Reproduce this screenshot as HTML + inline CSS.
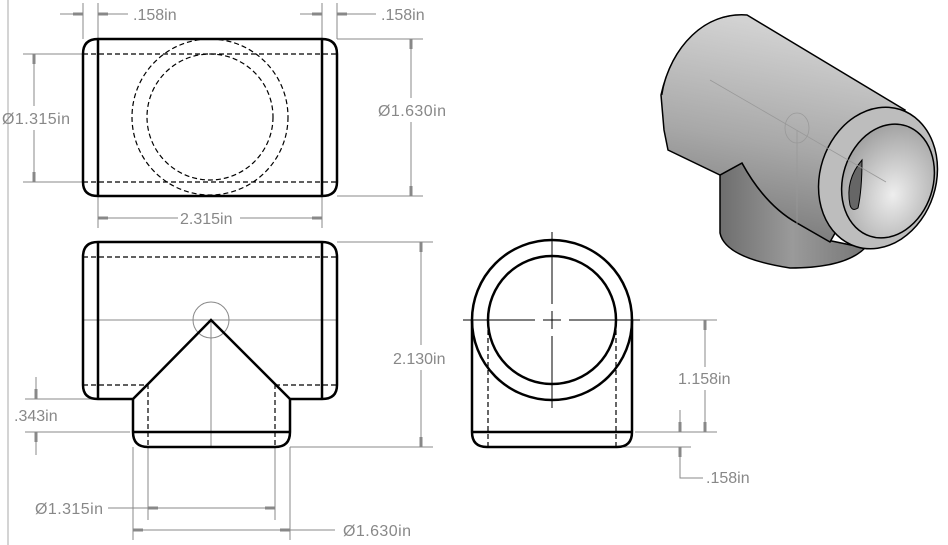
<!DOCTYPE html>
<html><head><meta charset="utf-8"><style>
html,body{margin:0;padding:0;background:#fff;}
svg{display:block;}
text{font-family:"Liberation Sans",sans-serif;font-size:16px;fill:#888;}
</style></head><body>
<svg width="948" height="545" viewBox="0 0 948 545" xmlns="http://www.w3.org/2000/svg">
<defs>
<linearGradient id="g1" x1="0.2" y1="0" x2="0" y2="1"><stop offset="0" stop-color="#d2d2d2"/><stop offset="0.5" stop-color="#a8a8a8"/><stop offset="1" stop-color="#707070"/></linearGradient>
<linearGradient id="g2" x1="0" y1="0" x2="1" y2="0"><stop offset="0" stop-color="#6e6e6e"/><stop offset="0.5" stop-color="#9a9a9a"/><stop offset="1" stop-color="#777"/></linearGradient>
<radialGradient id="g3" cx="0.6" cy="0.6" r="0.7"><stop offset="0" stop-color="#eeeeee"/><stop offset="1" stop-color="#9a9a9a"/></radialGradient>
</defs>
<line x1="8" y1="0" x2="8" y2="545" stroke="#aaa" stroke-width="1"/>

<g stroke="#888" stroke-width="1" fill="none">
<line x1="83" y1="3" x2="83" y2="39"/><line x1="98" y1="3" x2="98" y2="228"/>
<line x1="322" y1="3" x2="322" y2="228"/><line x1="337" y1="3" x2="337" y2="39"/>
<line x1="60" y1="14" x2="83" y2="14"/><line x1="98" y1="14" x2="128" y2="14"/>
<line x1="300" y1="14" x2="322" y2="14"/><line x1="337" y1="14" x2="376" y2="14"/>
<line x1="23" y1="54" x2="83" y2="54"/><line x1="23" y1="182" x2="83" y2="182"/>
<line x1="34" y1="54" x2="34" y2="106"/><line x1="34" y1="130" x2="34" y2="182"/>
<line x1="337" y1="39" x2="423" y2="39"/><line x1="337" y1="196" x2="423" y2="196"/>
<line x1="411" y1="39" x2="411" y2="98"/><line x1="411" y1="122" x2="411" y2="196"/>
<line x1="98" y1="218" x2="178" y2="218"/><line x1="240" y1="218" x2="322" y2="218"/>
<line x1="337" y1="242" x2="433" y2="242"/><line x1="290" y1="447" x2="433" y2="447"/>
<line x1="421" y1="242" x2="421" y2="345"/><line x1="421" y1="370" x2="421" y2="447"/>
<line x1="25" y1="399" x2="97" y2="399"/><line x1="25" y1="432" x2="130" y2="432"/>
<line x1="36" y1="377" x2="36" y2="399"/><line x1="36" y1="432" x2="36" y2="455"/>
<line x1="148" y1="447" x2="148" y2="520"/><line x1="275" y1="447" x2="275" y2="520"/>
<line x1="133" y1="447" x2="133" y2="540"/><line x1="290" y1="447" x2="290" y2="540"/>
<line x1="108" y1="508" x2="275" y2="508"/>
<line x1="133" y1="530" x2="335" y2="530"/>
<line x1="635" y1="320" x2="717" y2="320"/><line x1="635" y1="432" x2="717" y2="432"/>
<line x1="620" y1="447" x2="691" y2="447"/>
<line x1="705" y1="320" x2="705" y2="367"/><line x1="705" y1="390" x2="705" y2="432"/>
<line x1="680" y1="410" x2="680" y2="432"/>
<polyline points="680,447 680,478 703,478"/>
<line x1="83" y1="320" x2="337" y2="320"/>
<line x1="211" y1="320" x2="211" y2="447"/>
<circle cx="211" cy="320" r="18"/>
</g>
<g fill="#888">
<rect x="73" y="12.5" width="10" height="3"/><rect x="98" y="12.5" width="10" height="3"/>
<rect x="312" y="12.5" width="10" height="3"/><rect x="337" y="12.5" width="10" height="3"/>
<rect x="32.5" y="54" width="3" height="10"/><rect x="32.5" y="172" width="3" height="10"/>
<rect x="409.5" y="39" width="3" height="10"/><rect x="409.5" y="186" width="3" height="10"/>
<rect x="98" y="216.5" width="10" height="3"/><rect x="312" y="216.5" width="10" height="3"/>
<rect x="419.5" y="242" width="3" height="10"/><rect x="419.5" y="437" width="3" height="10"/>
<rect x="34.5" y="389" width="3" height="10"/><rect x="34.5" y="432" width="3" height="10"/>
<rect x="148" y="506.5" width="10" height="3"/><rect x="265" y="506.5" width="10" height="3"/>
<rect x="133" y="528.5" width="10" height="3"/><rect x="280" y="528.5" width="10" height="3"/>
<rect x="703.5" y="320" width="3" height="10"/><rect x="703.5" y="422" width="3" height="10"/>
<rect x="678.5" y="422" width="3" height="10"/><rect x="678.5" y="447" width="3" height="10"/>
</g>
<g>
<text x="133" y="20">.158in</text>
<text x="381" y="20">.158in</text>
<text x="2" y="124" textLength="68">Ø1.315in</text>
<text x="378" y="116" textLength="68">Ø1.630in</text>
<text x="180" y="224">2.315in</text>
<text x="393" y="364">2.130in</text>
<text x="14" y="421">.343in</text>
<text x="35" y="514" textLength="68">Ø1.315in</text>
<text x="343" y="536" textLength="68">Ø1.630in</text>
<text x="678" y="384">1.158in</text>
<text x="706" y="483">.158in</text>
</g>

<g fill="none" stroke="#000">
<path d="M98,39 H322 Q337,39 337,54 V182 Q337,196 322,196 H98 Q83,196 83,182 V54 Q83,39 98,39 Z" stroke-width="2.5"/>
<line x1="98" y1="39" x2="98" y2="196" stroke-width="2.5"/>
<line x1="322" y1="39" x2="322" y2="196" stroke-width="2.5"/>
<g stroke-width="1.2" stroke-dasharray="5,3">
<line x1="83" y1="54" x2="337" y2="54"/><line x1="83" y1="182" x2="337" y2="182"/>
<circle cx="210" cy="117" r="78"/><circle cx="210" cy="117" r="63"/>
</g>
</g>

<g fill="none" stroke="#000">
<path d="M98,242 H322 Q337,242 337,257 V385 Q337,399 322,399 H290 L275,384 L211,320 L148,384 L133,399 H98 Q83,399 83,385 V257 Q83,242 98,242 Z" stroke-width="2.5"/>
<line x1="98" y1="242" x2="98" y2="399" stroke-width="2.5"/>
<line x1="322" y1="242" x2="322" y2="399" stroke-width="2.5"/>
<path d="M133,399 V432 Q133,447 148,447 H275 Q290,447 290,432 V399" stroke-width="2.5"/>
<line x1="133" y1="432" x2="290" y2="432" stroke-width="2.5"/>
<g stroke-width="1.2" stroke-dasharray="5,3">
<line x1="83" y1="257" x2="337" y2="257"/>
<line x1="83" y1="385" x2="148" y2="385"/><line x1="275" y1="385" x2="337" y2="385"/>
<line x1="148" y1="384" x2="148" y2="447"/><line x1="275" y1="384" x2="275" y2="447"/>
</g>
</g>

<g fill="none" stroke="#000">
<circle cx="552" cy="320" r="80" stroke-width="2.5"/>
<circle cx="552" cy="320" r="64" stroke-width="2.5"/>
<path d="M472,320 V432 Q472,447 487,447 H617 Q632,447 632,432 V320" stroke-width="2.5"/>
<line x1="472" y1="432" x2="632" y2="432" stroke-width="2.5"/>
<g stroke-width="1.2" stroke-dasharray="5,3">
<line x1="488" y1="330" x2="488" y2="447"/><line x1="616" y1="330" x2="616" y2="447"/>
</g>
<g stroke-width="1">
<line x1="463" y1="320" x2="535" y2="320"/><line x1="543" y1="320" x2="561" y2="320"/><line x1="569" y1="320" x2="640" y2="320"/>
<line x1="552" y1="232" x2="552" y2="304"/><line x1="552" y1="311" x2="552" y2="329"/><line x1="552" y1="336" x2="552" y2="408"/>
</g>
</g>

<!-- ISOMETRIC -->
<g stroke="#000" stroke-width="1.5">
<path d="M720,175 L742,163 Q765,205 797,223 L827,240 L865,248 Q845,268 790,268 Q725,258 720,233 Z" fill="url(#g2)"/>
<path d="M747,15 C705,12 672,45 661,95 L664,130 L668,150 L720,175 L742,163 Q765,205 797,223 L830,242 L905,110 L747,15 Z" fill="url(#g1)"/>
<path d="M730,16 C695,22 668,55 662,95" fill="none" stroke-width="1"/>
<ellipse cx="878" cy="178" rx="58" ry="72" transform="rotate(18 878 178)" fill="#bdbdbd"/>
<ellipse cx="888" cy="181" rx="45" ry="58" transform="rotate(18 888 181)" fill="url(#g3)"/>
<path d="M862,160 Q845,180 850,205 Q852,212 858,208 Q862,190 862,160 Z" fill="#666" stroke-width="1"/>
</g>
<g stroke="#999" stroke-width="0.8" fill="none">
<line x1="710" y1="80" x2="886" y2="182"/>
<line x1="797" y1="130" x2="797" y2="235"/>
<ellipse cx="797" cy="128" rx="12" ry="15"/>
</g>
</svg>
</body></html>
